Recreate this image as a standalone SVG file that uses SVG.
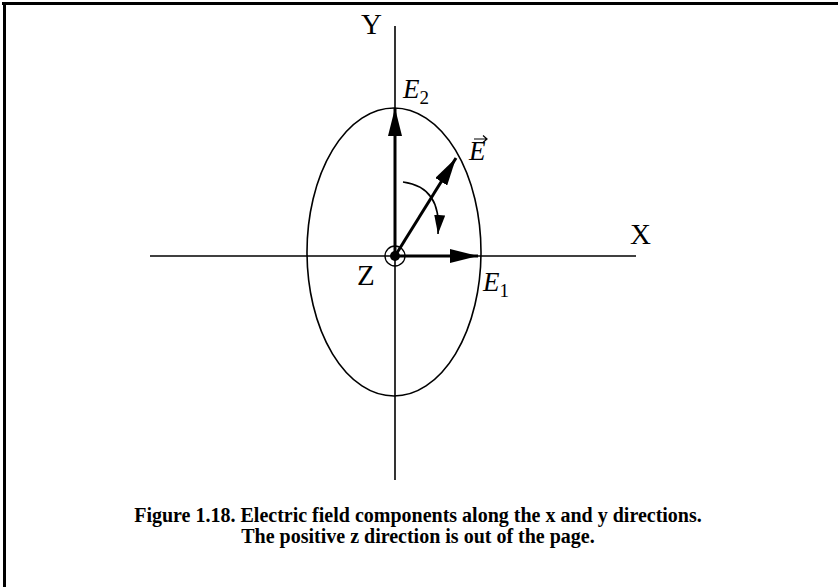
<svg xmlns="http://www.w3.org/2000/svg" width="838" height="587" viewBox="0 0 838 587">
<style>
.ax{stroke:#000;stroke-width:1.6;fill:none}
.vec{stroke:#000;stroke-width:3;fill:none}
.lbl{font-family:"Liberation Serif","Times New Roman",serif;font-size:29px;fill:#000}
.it{font-family:"Liberation Serif","Times New Roman",serif;font-style:italic;font-size:27px;fill:#000}
.sub{font-family:"Liberation Serif","Times New Roman",serif;font-size:19px;fill:#000}
.cap{font-family:"Liberation Serif","Times New Roman",serif;font-weight:bold;font-size:20px;fill:#000}
</style>
<defs>
<marker id="ah" viewBox="0 0 28 14" refX="28" refY="7" markerWidth="28" markerHeight="14" markerUnits="userSpaceOnUse" orient="auto">
<path d="M0,0 L28,7 L0,14 Z" fill="#000"/>
</marker>
<marker id="ahs" viewBox="0 0 19 11" refX="19" refY="5.5" markerWidth="19" markerHeight="11" markerUnits="userSpaceOnUse" orient="auto">
<path d="M0,0 L19,5.5 L0,11 Z" fill="#000"/>
</marker>
</defs>
<rect width="838" height="587" fill="#fff"/>
<g id="frame">
<line x1="2" y1="3.5" x2="838" y2="3.5" stroke="#000" stroke-width="3"/>
<line x1="4.5" y1="2" x2="4.5" y2="587" stroke="#000" stroke-width="3"/>
</g>
<g id="axes">
<line class="ax" x1="395" y1="26" x2="395" y2="480"/>
<line class="ax" x1="150" y1="256" x2="636" y2="256"/>
</g>
<g id="ellipse">
<ellipse class="ax" cx="394" cy="252" rx="87" ry="144" stroke-width="1.3"/>
</g>
<g id="connectors">
<line class="vec" x1="395" y1="256" x2="395" y2="108" marker-end="url(#ah)"/>
<line class="vec" x1="395" y1="256" x2="478" y2="256" marker-end="url(#ah)"/>
<line class="vec" x1="395" y1="256" x2="456" y2="158" marker-end="url(#ah)"/>
<path class="ax" d="M403,182 C426,185 441,200 438,234" marker-end="url(#ahs)"/>
</g>
<g id="origin">
<circle cx="395" cy="256" r="10" fill="none" stroke="#000" stroke-width="1.3"/>
<circle cx="395" cy="256" r="5" fill="#000"/>
</g>
<g id="labels">
<text class="lbl" x="361" y="34">Y</text>
<text class="lbl" x="630" y="244">X</text>
<text class="lbl" x="357" y="285">Z</text>
<text class="it" x="403" y="98">E<tspan class="sub" dy="6" font-style="normal">2</tspan></text>
<text class="it" x="483" y="291">E<tspan class="sub" dy="6" font-style="normal">1</tspan></text>
<text class="it" x="469" y="160">E</text>
<path d="M474,139 L487,139 M483,135.5 L487,139 L483,142.5" stroke="#000" stroke-width="1.2" fill="none"/>
</g>
<g id="caption">
<text class="cap" x="418" y="522" text-anchor="middle">Figure 1.18. Electric field components along the x and y directions.</text>
<text class="cap" x="418" y="543" text-anchor="middle">The positive z direction is out of the page.</text>
</g>
</svg>
